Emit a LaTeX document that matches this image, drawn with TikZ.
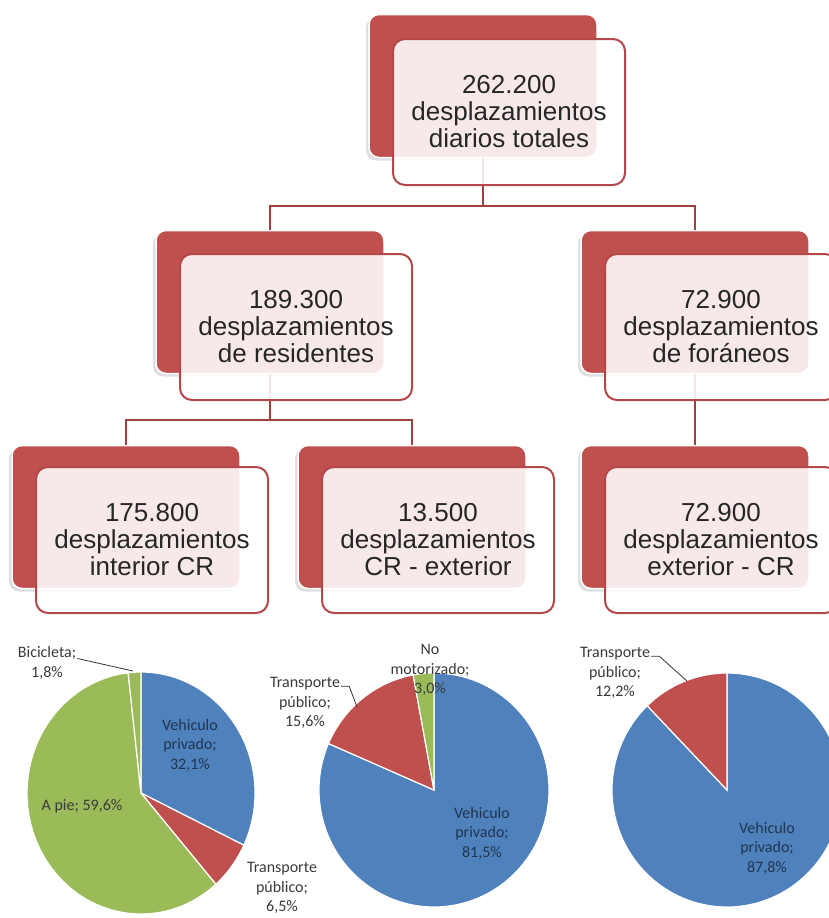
\documentclass[tikz,border=0pt]{standalone}
\usepackage{fontspec}
\setmainfont{Liberation Sans}
\newfontfamily\piefont{Carlito}
\usetikzlibrary{calc,shadows}
\definecolor{chartred}{HTML}{C0504D}
\definecolor{chartblue}{HTML}{4F81BD}
\definecolor{chartgreen}{HTML}{9BBB59}
\definecolor{linkred}{HTML}{A03F3D}
\definecolor{boxedge}{HTML}{B4474A}
\definecolor{textgray}{HTML}{262626}
\definecolor{labelgray}{HTML}{3A3A3A}
\definecolor{labelblue}{HTML}{1F3550}
% slice of an elliptic pie, drawn round (0,0)
\def\pieslice[#1](#2:#3:#4:#5){\filldraw[#1] (0,0) -- (#2:#4 and #5) arc[start angle=#2, end angle=#3, x radius=#4, y radius=#5] -- cycle;}
\tikzset{
  backbox/.style={fill=chartred, draw=white, line width=1.5pt, rounded corners=10pt,
    minimum width=228pt, minimum height=143pt, inner sep=0pt,
    drop shadow={shadow xshift=-3pt, shadow yshift=-3pt, opacity=0.25}},
  frontbox/.style={fill=white, fill opacity=0.88, text opacity=1, draw=boxedge, line width=2pt,
    rounded corners=12pt, minimum width=232pt, minimum height=146pt, align=center,
    text=textgray, font=\fontsize{26}{27}\selectfont},
  link/.style={linkred, line width=2.2pt},
  slice/.style={draw=white, line width=1.2pt},
  pielabel/.style={align=center, text=labelgray, inner sep=0pt, font=\piefont\fontsize{16}{19.5}\selectfont},
  inlabel/.style={pielabel, text=labelblue},
  leader/.style={black!80, line width=0.8pt}
}
\begin{document}
\begin{tikzpicture}[x=1pt,y=-1pt]
  \useasboundingbox (0,0) rectangle (828,918);
  %%%%% BOXES (back) %%%%%
  \node[backbox] (topb) at (483,86) {};
  \node[backbox] (resb) at (270,302) {};
  \node[backbox] (forb) at (695,302) {};
  \node[backbox] (intb) at (126,517) {};
  \node[backbox] (crxb) at (412,517) {};
  \node[backbox] (excb) at (695,517) {};
  %%%%% CONNECTORS %%%%%
  \draw[link] (topb.south) -- ++(0,48) -| (resb.north);
  \draw[link] (topb.south) -- ++(0,48) -| (forb.north);
  \draw[link] (resb.south) -- ++(0,46) -| (intb.north);
  \draw[link] (resb.south) -- ++(0,46) -| (crxb.north);
  \draw[link] (forb.south) -- (excb.north);
  %%%%% BOXES (front) %%%%%
  \node[frontbox] (top) at (509,112) {262.200\\desplazamientos\\diarios totales};
  \node[frontbox] (res) at (296,327) {189.300\\desplazamientos\\de residentes};
  \node[frontbox] (for) at (721,327) {72.900\\desplazamientos\\de foráneos};
  \node[frontbox] (int) at (152,540) {175.800\\desplazamientos\\interior CR};
  \node[frontbox] (crx) at (438,540) {13.500\\desplazamientos\\CR - exterior};
  \node[frontbox] (exc) at (721,540) {72.900\\desplazamientos\\exterior - CR};
  %%%%% PIE: interior CR %%%%%
  \begin{scope}[shift={(141,793)}, yscale=-1]
    \pieslice[fill=chartblue, slice](90:-25.56:114:121)
    \pieslice[fill=chartred, slice](-25.56:-48.96:114:121)
    \pieslice[fill=chartgreen, slice](-48.96:-263.52:114:121)
    \pieslice[fill=chartgreen, slice](-263.52:-270:114:121)
  \end{scope}
  \node[pielabel] (bici) at (47,663) {Bicicleta;\\1,8\%};
  \coordinate (bicitip) at (133,671);
  \draw[leader] ($(bici.north east)+(1,12)$) -- (bicitip);
  \node[inlabel] (lveh) at (190,745) {Vehiculo\\privado;\\32,1\%};
  \node[pielabel] (lapie) at (82,806) {A pie; 59,6\%};
  \node[pielabel] (ltp) at (282,888) {Transporte\\público;\\6,5\%};
  %%%%% PIE: CR - exterior %%%%%
  \begin{scope}[shift={(434,790)}, yscale=-1]
    \pieslice[fill=chartblue, slice](90:-203.4:115:117)
    \pieslice[fill=chartred, slice](-203.4:-259.56:115:117)
    \pieslice[fill=chartgreen, slice](-259.56:-270:115:117)
  \end{scope}
  \node[pielabel] (mno) at (430,670) {No\\motorizado;\\3,0\%};
  \node[pielabel] (mtp) at (305,703) {Transporte\\público;\\15,6\%};
  \coordinate (mtptip) at (357,707);
  \draw[leader] ($(mtp.north east)+(1,9)$) -- ++(8,0) -- (mtptip);
  \node[inlabel] (mveh) at (482,833) {Vehiculo\\privado;\\81,5\%};
  %%%%% PIE: exterior - CR %%%%%
  \begin{scope}[shift={(727,790)}, yscale=-1]
    \pieslice[fill=chartblue, slice](90:-226.08:115:117)
    \pieslice[fill=chartred, slice](-226.08:-270:115:117)
  \end{scope}
  \node[pielabel] (rtp) at (615,673) {Transporte\\público;\\12,2\%};
  \coordinate (rtptip) at (687,681);
  \draw[leader] ($(rtp.north east)+(1,9)$) -- ++(8,0) -- (rtptip);
  \node[inlabel] (rveh) at (767,848) {Vehiculo\\privado;\\87,8\%};
\end{tikzpicture}
\end{document}
